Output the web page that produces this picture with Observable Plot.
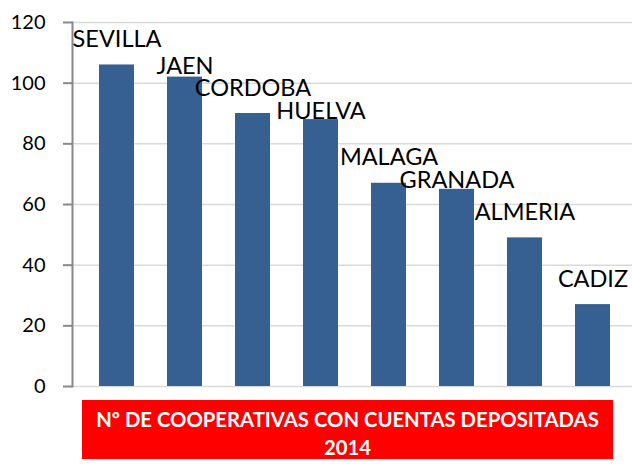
<!DOCTYPE html>
<html>
<head>
<meta charset="utf-8">
<script src="https://cdn.jsdelivr.net/npm/d3@7"></script>
<script src="https://cdn.jsdelivr.net/npm/@observablehq/plot@0.6"></script>
<style>
  html, body { margin: 0; padding: 0; background: #fff; }
  #chart svg { display: block; }
  #caption {
    margin-left: 82px; width: 531px; height: 54px; padding-top: 5px;
    background: #ff0000; color: #fff; font-family: Lato, sans-serif; font-weight: bold;
    font-size: 20.3px; line-height: 28px; text-align: center; white-space: nowrap;
  }
</style>
</head>
<body>
<div id="chart"></div>
<div id="caption">Nº DE COOPERATIVAS CON CUENTAS DEPOSITADAS<br>2014</div>
<script>
const categories = ["SEVILLA", "JAEN", "CORDOBA", "HUELVA", "MALAGA", "GRANADA", "ALMERIA", "CADIZ"];
const values = [106, 102, 90, 88, 67, 65, 49, 27];
const yTicks = [0, 20, 40, 60, 80, 100, 120];

const W = 632, H = 400, mL = 72, mR = 0, mT = 22, mB = 14;
const xOpts = {domain: categories, range: [80, 629], paddingInner: 0.49, paddingOuter: 0.245};
const yOpts = {domain: [0, 120]};
const fontSize = 23.5, capH = 17;

// Label placement: above each bar, nudged down when it would collide with the previous label.
const xs = Plot.scale({x: {type: "band", ...xOpts}});
const ys = Plot.scale({y: {type: "linear", ...yOpts, range: [H - mB, mT]}});
const ctx = document.createElement("canvas").getContext("2d");
ctx.font = `${fontSize}px Lato`;
const data = [];
let prev = null;
categories.forEach((c, i) => {
  const cx = xs.apply(c) + xs.bandwidth / 2;
  const w = ctx.measureText(c).width;
  const top = ys.apply(values[i]);
  let base = top - 18;
  const left = cx - w / 2, right = cx + w / 2;
  if (prev && left < prev.right + 2 && Math.abs(base - prev.base) < capH + 4) {
    base = Math.max(base, Math.min(prev.base + capH + 10, top - 1));
  }
  prev = {base, right};
  data.push({province: c, value: values[i], dy: base - top});
});

const chart = Plot.plot({
  width: W, height: H,
  marginLeft: mL, marginRight: mR, marginTop: mT, marginBottom: mB,
  style: {fontFamily: "Lato, sans-serif", background: "#fff"},
  x: {...xOpts, axis: null},
  y: {...yOpts, axis: null},
  marks: [
    Plot.gridY(yTicks, {stroke: "#d9d9d9", strokeOpacity: 1, strokeWidth: 1.5}),
    Plot.barY(data, {x: "province", y: "value", fill: "#376092"}),
    Plot.frame({anchor: "left", stroke: "#888", strokeWidth: 2}),
    Plot.axisY(yTicks, {tickSize: 9, tickPadding: 18, stroke: "#888", strokeWidth: 2, fill: "#000", fontSize: 20, label: null}),
    ...data.map(d => Plot.text([d], {x: "province", y: "value", text: "province", dy: d.dy, lineAnchor: "bottom", fontSize, fill: "#000"}))
  ]
});
document.getElementById("chart").appendChild(chart);
</script>
</body>
</html>
